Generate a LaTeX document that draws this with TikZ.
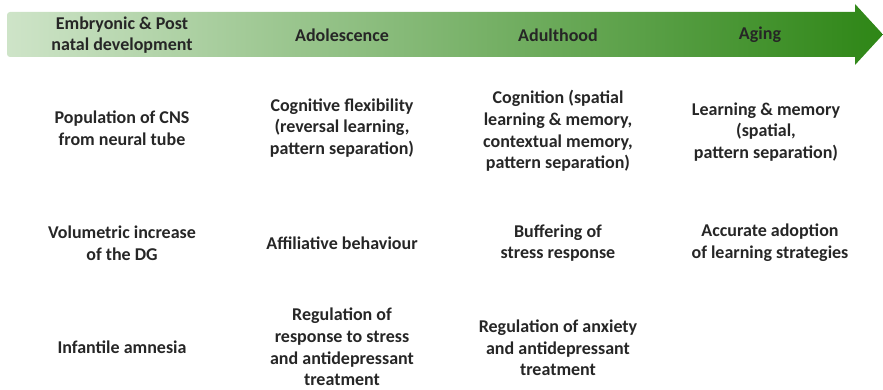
\documentclass[tikz,border=0pt]{standalone}
\usepackage{fontspec}
\setmainfont{Carlito}
\definecolor{txt}{HTML}{262626}
\definecolor{gleft}{RGB}{206,228,200}
\definecolor{gright}{RGB}{46,134,22}
\begin{document}
\begin{tikzpicture}[x=1pt,y=-1pt,
  lbl/.style={font=\bfseries\fontsize{18}{21.7}\selectfont, align=center, text=txt, inner sep=0pt}]
\useasboundingbox (0,0) rectangle (883,390);
\shade[left color=gleft, right color=gright]
  [rounded corners=3pt] (7,57) -- (7,12) [sharp corners] -- (855,12) -- (855,4) -- (883,34.5) -- (855,65) -- (855,57) [rounded corners=3pt] -- cycle;
% header
\node[lbl] (h1) at (122,35) {Embryonic \& Post\\natal development};
\node[lbl] (h2) at (342,35) {Adolescence};
\node[lbl] (h3) at (558,35) {Adulthood};
\node[lbl] (h4) at (760,35) {Aging};
% row 1
\node[lbl] (a1) at (122,128) {Population of CNS\\from neural tube};
\node[lbl] (b1) at (342,128) {Cognitive flexibility\\(reversal learning,\\pattern separation)};
\node[lbl] (c1) at (558,131) {Cognition (spatial\\learning \& memory,\\contextual memory,\\pattern separation)};
\node[lbl] (d1) at (766,132) {Learning \& memory\\(spatial,\\pattern separation)};
% row 2
\node[lbl] (a2) at (122,243) {Volumetric increase\\of the DG};
\node[lbl] (b2) at (342,243) {Affiliative behaviour};
\node[lbl] (c2) at (558,243) {Buffering of\\stress response};
\node[lbl] (d2) at (770,243) {Accurate adoption\\of learning strategies};
% row 3
\node[lbl] (a3) at (122,347) {Infantile amnesia};
\node[lbl] (b3) at (342,347) {Regulation of\\response to stress\\and antidepressant\\treatment};
\node[lbl] (c3) at (558,348) {Regulation of anxiety\\and antidepressant\\treatment};
\end{tikzpicture}
\end{document}
